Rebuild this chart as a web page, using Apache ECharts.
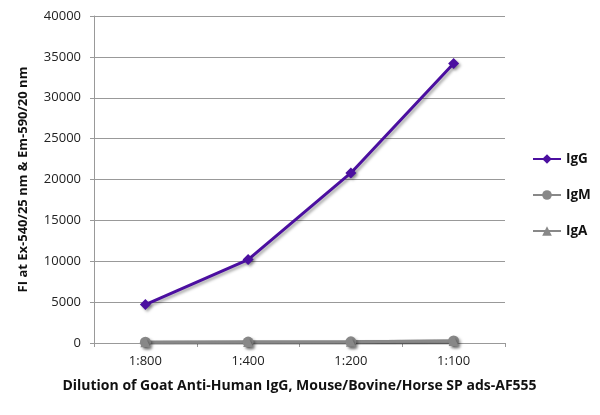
<!DOCTYPE html>
<html><head><meta charset="utf-8">
<script src="https://cdn.jsdelivr.net/npm/echarts@6/dist/echarts.min.js"></script>
<style>html,body{margin:0;padding:0;background:#fff}#c{width:600px;height:415px}</style>
</head><body><div id="c"></div>
<script>
const categories = ['1:800', '1:400', '1:200', '1:100'];
const igG = [4700, 10200, 20800, 34200];
const igM = [100, 120, 150, 250];
const igA = [90, 110, 140, 230];
const yTicks = { min: 0, max: 40000, interval: 5000 };

const chart = echarts.init(document.getElementById('c'), null, { renderer: 'canvas' });
const fontFam = '"Open Sans", "Noto Sans", sans-serif';
const shadow = { shadowColor: 'rgba(0,0,0,0.35)', shadowBlur: 3, shadowOffsetX: 2, shadowOffsetY: 2 };
function mk(name, data, color, symbol, size) {
  return {
    name, type: 'line', data, symbol, symbolSize: size,
    lineStyle: Object.assign({ color, width: 3 }, shadow),
    itemStyle: Object.assign({ color }, shadow),
    emphasis: { disabled: true }, animation: false
  };
}
chart.setOption({
  animation: false,
  grid: { left: 94, right: 95, top: 16, bottom: 72, containLabel: false },
  legend: {
    orient: 'vertical', left: 527, top: 147, itemGap: 22,
    itemWidth: 28, itemHeight: 12,
    textStyle: { fontFamily: fontFam, fontWeight: 'bold', fontSize: 13.5, color: '#111' },
    data: ['IgG', 'IgM', 'IgA']
  },
  xAxis: {
    type: 'category', data: categories, boundaryGap: true,
    name: 'Dilution of Goat Anti-Human IgG, Mouse/Bovine/Horse SP ads-AF555',
    nameLocation: 'middle', nameGap: 36,
    nameTextStyle: { fontFamily: fontFam, fontWeight: 'bold', fontSize: 14, color: '#111' },
    axisLine: { lineStyle: { color: '#999', width: 1 } },
    axisTick: { show: true, length: 4, lineStyle: { color: '#999' } },
    axisLabel: { fontFamily: fontFam, fontSize: 13, color: '#222', margin: 12 }
  },
  yAxis: {
    type: 'value', min: yTicks.min, max: yTicks.max, interval: yTicks.interval,
    name: 'FI at Ex-540/25 nm & Em-590/20 nm',
    nameLocation: 'middle', nameGap: 64, nameRotate: 90,
    nameTextStyle: { fontFamily: fontFam, fontWeight: 'bold', fontSize: 13, color: '#111' },
    axisLine: { show: true, lineStyle: { color: '#999' } },
    axisTick: { show: true, length: 4, lineStyle: { color: '#999' } },
    splitLine: { lineStyle: { color: '#999', width: 1 } },
    axisLabel: { fontFamily: fontFam, fontSize: 13, color: '#222', margin: 13, formatter: v => String(v) }
  },
  series: [
    mk('IgG', igG, '#4b0fa0', 'diamond', 11),
    mk('IgM', igM, '#888888', 'circle', 11),
    mk('IgA', igA, '#888888', 'triangle', 10)
  ]
});
</script></body></html>
